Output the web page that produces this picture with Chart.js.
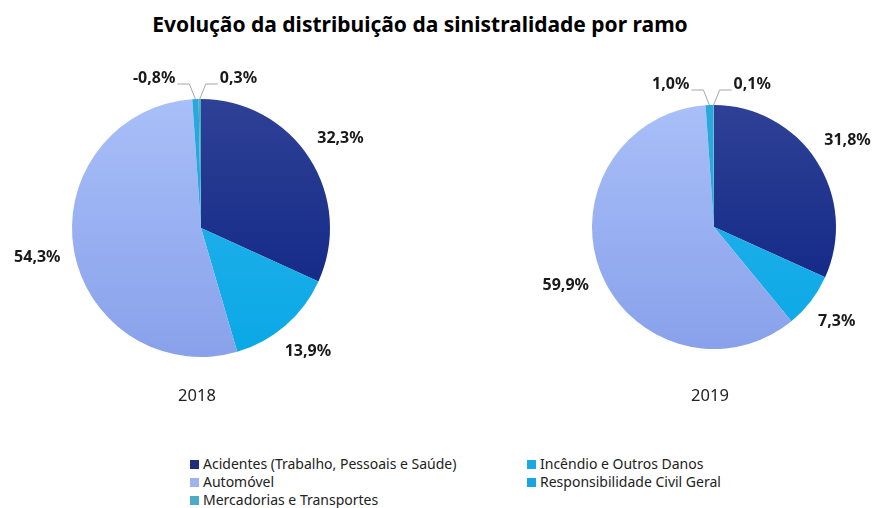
<!DOCTYPE html>
<html>
<head>
<meta charset="utf-8">
<script src="https://cdn.jsdelivr.net/npm/chart.js@4/dist/chart.umd.min.js"></script>
<style>
  body { margin: 0; background: #fff; overflow: hidden; font-family: "Noto Sans", sans-serif; }
  #wrap { position: relative; width: 877px; height: 508px; overflow: hidden; }
  #title { position: absolute; left: 0; width: 840px; top: 10px; text-align: center;
           font-weight: bold; font-size: 21px; color: #000; }
  .year { position: absolute; top: 383px; font-size: 16.5px; color: #222; width: 80px; text-align: center; }
  #c2018 { position: absolute; left: 0; top: 60px; }
  #c2019 { position: absolute; left: 500px; top: 60px; }
  .leg { position: absolute; font-size: 14px; color: #222; white-space: nowrap; line-height: 18px; }
  .leg i { display: inline-block; width: 9px; height: 9px; margin-right: 4px; vertical-align: 0px; }
</style>
</head>
<body>
<div id="wrap">
  <div id="title">Evolução da distribuição da sinistralidade por ramo</div>
  <canvas id="c2018" width="402" height="336"></canvas>
  <canvas id="c2019" width="428" height="334"></canvas>
  <div class="year" style="left:157px">2018</div>
  <div class="year" style="left:670px">2019</div>
  <div id="legend"></div>
</div>
<script>
// ramos (ordem da legenda)
const ramos = [
  'Acidentes (Trabalho, Pessoais e Saúde)',
  'Incêndio e Outros Danos',
  'Automóvel',
  'Responsibilidade Civil Geral',
  'Mercadorias e Transportes'
];
const valores2018 = [32.3, 13.9, 54.3, -0.8, 0.3];
const valores2019 = [31.8, 7.3, 59.9, 1.0, 0.1];

// cores: [topo, base] do gradiente
const cores = [
  ['#2f4196', '#0a2282'],
  ['#2bb4ec', '#0aa8e6'],
  ['#a9bff9', '#88a1ea'],
  ['#2aa8dc', '#2aa8dc'],
  ['#4bacc6', '#4bacc6']
];
const coresLegenda = ['#1f2f7a', '#1ba9e6', '#9db3ee', '#1aa4e0', '#4bacc6'];

function fmt(v) {
  return v.toFixed(1).replace('.', ',') + '%';
}

function gradiente(ctx) {
  const chart = ctx.chart;
  const area = chart.chartArea;
  const c = cores[ctx.dataIndex];
  if (!area) return c[0];
  const g = chart.ctx.createLinearGradient(0, area.top, 0, area.bottom);
  g.addColorStop(0, c[0]);
  g.addColorStop(1, c[1]);
  return g;
}

const rotulos = {
  id: 'rotulos',
  afterDatasetsDraw(chart) {
    const ctx = chart.ctx;
    const meta = chart.getDatasetMeta(0);
    const vals = chart.data.datasets[0].data;
    const total = vals.reduce((s, v) => s + Math.abs(v), 0);
    const n = vals.length;
    ctx.save();
    ctx.font = 'bold 16px "Noto Sans"';
    ctx.fillStyle = '#1a1a1a';
    ctx.textBaseline = 'middle';
    meta.data.forEach((arc, i) => {
      const p = arc.getProps(['x', 'y', 'startAngle', 'endAngle', 'outerRadius'], true);
      const a = (p.startAngle + p.endAngle) / 2;
      const r = p.outerRadius;
      const txt = fmt(vals[i]);
      const w = ctx.measureText(txt).width;
      if (Math.abs(vals[i]) / total < 0.02) {
        // fatias pequenas: linha de chamada
        const dir = i === n - 1 ? 1 : -1;
        const ax = p.x + Math.cos(a) * r;
        const ay = p.y + Math.sin(a) * r;
        const ey = p.y - r - 15;
        const ex = ax + dir * 6;
        const fx = ex + dir * 12;
        ctx.strokeStyle = '#a6a6a6';
        ctx.lineWidth = 1;
        ctx.beginPath();
        ctx.moveTo(ax, ay);
        ctx.lineTo(ex, ey);
        ctx.lineTo(fx, ey);
        ctx.stroke();
        ctx.textAlign = dir > 0 ? 'left' : 'right';
        ctx.fillText(txt, fx + dir * 2, ey - 6);
      } else {
        const d = r + 13 + Math.abs(Math.cos(a)) * w / 2 + Math.abs(Math.sin(a)) * 8;
        ctx.textAlign = 'center';
        ctx.fillText(txt, p.x + Math.cos(a) * d, p.y + Math.sin(a) * d);
      }
    });
    ctx.restore();
  }
};

function pizza(id, valores, pad) {
  return new Chart(document.getElementById(id), {
    type: 'pie',
    data: {
      labels: ramos,
      datasets: [{
        data: valores,
        backgroundColor: gradiente,
        borderWidth: 0
      }]
    },
    options: {
      responsive: false,
      animation: false,
      layout: { padding: pad },
      plugins: { legend: { display: false }, tooltip: { enabled: false } }
    },
    plugins: [rotulos]
  });
}

pizza('c2018', valores2018, { top: 39, bottom: 39, left: 0, right: 0 });
pizza('c2019', valores2019, { top: 45, bottom: 45, left: 0, right: 0 });

// legenda
const pos = [[190, 455], [527, 455], [190, 473], [527, 473], [190, 491]];
const leg = document.getElementById('legend');
ramos.forEach((nome, i) => {
  const d = document.createElement('div');
  d.className = 'leg';
  d.style.left = pos[i][0] + 'px';
  d.style.top = pos[i][1] + 'px';
  d.innerHTML = '<i style="background:' + coresLegenda[i] + '"></i>' + nome;
  leg.appendChild(d);
});
</script>
</body>
</html>
